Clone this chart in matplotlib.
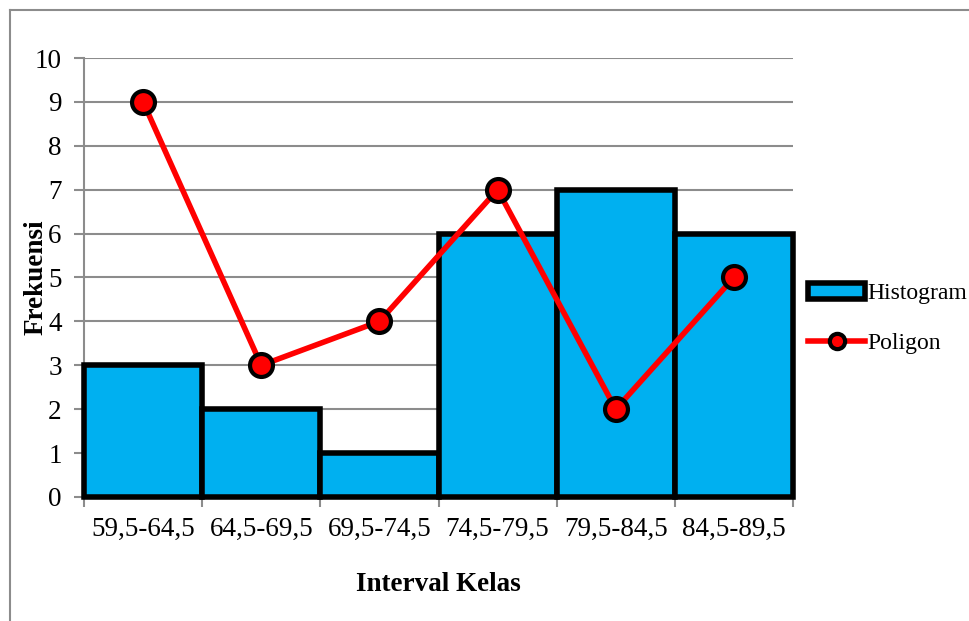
import numpy as np
import matplotlib
matplotlib.use('Agg')
import matplotlib.pyplot as plt
from matplotlib.patches import Patch
from matplotlib.lines import Line2D

# class intervals and frequencies
kelas = ['59,5-64,5', '64,5-69,5', '69,5-74,5', '74,5-79,5', '79,5-84,5', '84,5-89,5']
histogram = [3, 2, 1, 6, 7, 6]
poligon = [9, 3, 4, 7, 2, 5]

plt.rcParams['font.family'] = ['Liberation Serif', 'DejaVu Serif']

fig = plt.figure(figsize=(9.69, 6.21), dpi=100)
ax = fig.add_axes([0.0867, 0.1997, 0.7317, 0.7069])

# outer chart border (top and left edges only fall inside the image)
border = '#8c8c8c'
fig.add_artist(Line2D([10 / 969, 1.0], [1 - 10 / 621] * 2, transform=fig.transFigure,
                      color=border, linewidth=1.5))
fig.add_artist(Line2D([10 / 969] * 2, [0, 1 - 10 / 621], transform=fig.transFigure,
                      color=border, linewidth=1.5))

x = np.arange(len(kelas))
ax.bar(x, histogram, width=1.0, color='#00B0F0', edgecolor='black',
       linewidth=4, zorder=3, clip_on=False)
ax.plot(x, poligon, color='#FF0000', linewidth=4, marker='o',
        markersize=16.5, markerfacecolor='#FF0000', markeredgecolor='black',
        markeredgewidth=3, zorder=4, clip_on=False)

ax.set_xlim(-0.5, len(kelas) - 0.5)
ax.set_ylim(0, 10)
ax.set_yticks(range(0, 11))
ax.yaxis.grid(True, color=border, linewidth=1.5, zorder=0)
ax.set_axisbelow(True)

ax.set_xticks(x)
ax.set_xticklabels(kelas)
ax.set_xticks(np.arange(-0.5, len(kelas)), minor=True)
ax.tick_params(axis='x', which='major', length=0, labelsize=19.5, pad=14)
ax.tick_params(axis='x', which='minor', length=7, width=1.5, color=border)
ax.tick_params(axis='y', length=7, width=1.5, color=border, labelsize=19.5, pad=9)

for s in ['top', 'right']:
    ax.spines[s].set_visible(False)
ax.spines['left'].set_color(border)
ax.spines['left'].set_linewidth(1.5)
ax.spines['bottom'].set_color('black')
ax.spines['bottom'].set_linewidth(2)

ax.set_xlabel('Interval Kelas', fontsize=19.5, fontweight='bold', labelpad=22)
ax.set_ylabel('Frekuensi', fontsize=19.5, fontweight='bold', labelpad=-10)

handles = [Patch(facecolor='#00B0F0', edgecolor='black', linewidth=4),
           Line2D([], [], color='#FF0000', linewidth=4, marker='o',
                  markersize=11, markerfacecolor='#FF0000',
                  markeredgecolor='black', markeredgewidth=3)]
fig.legend(handles, ['Histogram', 'Poligon'], loc='center left',
           bbox_to_anchor=(0.8245, 0.487), frameon=False, fontsize=17,
           handlelength=2.4, handletextpad=0.1, labelspacing=1.2,
           borderaxespad=0)

fig.savefig('out.png', dpi=100)
